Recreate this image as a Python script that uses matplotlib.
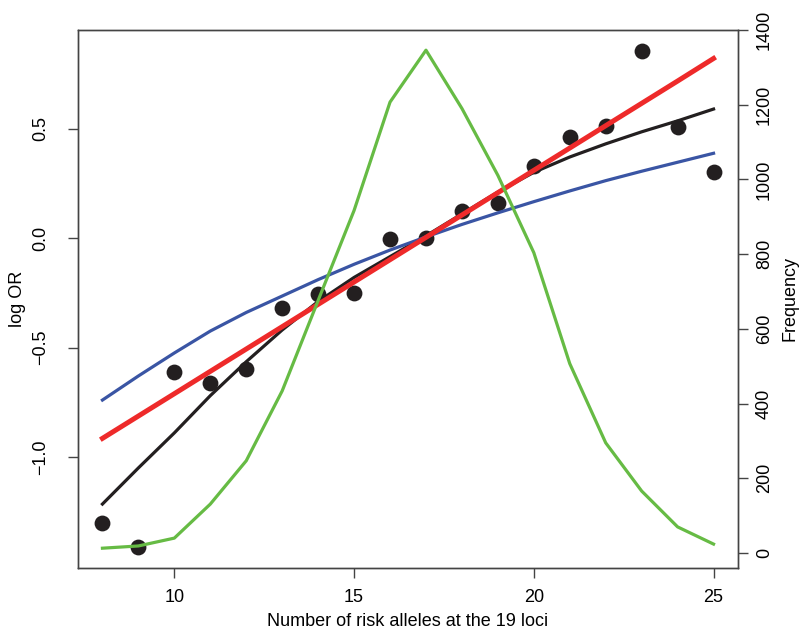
import matplotlib
matplotlib.use("Agg")
import matplotlib.pyplot as plt

plt.rcParams['font.family'] = ['Liberation Sans', 'DejaVu Sans']

# Data
alleles = [8, 9, 10, 11, 12, 13, 14, 15, 16, 17, 18, 19, 20, 21, 22, 23, 24, 25]
log_or_points = [-1.301, -1.411, -0.612, -0.662, -0.598, -0.320, -0.256, -0.251, -0.005,
                 0.000, 0.125, 0.161, 0.330, 0.460, 0.511, 0.854, 0.505, 0.301]
smooth_black = [-1.215, -1.05, -0.89, -0.72, -0.565, -0.42, -0.29, -0.18, -0.085,
                0.01, 0.11, 0.21, 0.30, 0.37, 0.43, 0.485, 0.535, 0.589]
fit_blue = [-0.740, -0.63, -0.525, -0.425, -0.34, -0.265, -0.19, -0.12, -0.055,
            0.005, 0.062, 0.115, 0.166, 0.215, 0.262, 0.305, 0.346, 0.387]
fit_red = [-0.915, -0.813, -0.711, -0.609, -0.507, -0.405, -0.303, -0.201, -0.099,
           0.003, 0.105, 0.207, 0.309, 0.411, 0.513, 0.615, 0.717, 0.820]
frequency = [13, 19, 40, 131, 247, 434, 676, 917, 1207, 1346, 1190, 1011, 804, 507,
             295, 166, 70, 24]

x_ticks = [10, 15, 20, 25]
left_ticks = [-1.0, -0.5, 0.0, 0.5]
left_ticklabels = ["\u22121.0", "\u22120.5", "0.0", "0.5"]
right_ticks = [0, 200, 400, 600, 800, 1000, 1200, 1400]

fs = 13
fig = plt.figure(figsize=(8.02, 6.31), dpi=100)
ax = fig.add_axes([78/802, 1-568/631, (738-78)/802, (568-30)/631])

frame_col = '#444444'
ax.scatter(alleles, log_or_points, s=130, color='#231F20', zorder=3, linewidths=0)
ax.plot(alleles, smooth_black, color='#231F20', lw=2.3, zorder=4)
ax.plot(alleles, fit_blue, color='#3A55A4', lw=2.3, zorder=5)
ax.plot(alleles, fit_red, color='#EE2A2A', lw=3.6, zorder=6)

ax.set_xlim(7.32, 25.68)
ax.set_ylim(-1.507, 0.950)
ax.set_xticks(x_ticks)
ax.set_yticks(left_ticks)
ax.set_yticklabels(left_ticklabels, rotation=90, va='center')
ax.tick_params(axis='both', direction='out', length=7, width=1, color=frame_col,
               labelsize=fs)
ax.tick_params(axis='y', pad=14)
ax.tick_params(axis='x', pad=8)
for sp in ax.spines.values():
    sp.set_color(frame_col)
    sp.set_linewidth(1)
ax.set_xlabel("Number of risk alleles at the 19 loci", fontsize=fs, va='center')
ax.xaxis.set_label_coords(0.5, (568 - 621) / 538)
ax.set_ylabel("log OR", fontsize=fs, va='center')
ax.yaxis.set_label_coords((18 - 78) / 660, 0.5)

ax2 = ax.twinx()
ax2.plot(alleles, frequency, color='#66BB44', lw=2.3, zorder=7)
ax2.set_ylim(-40, 1399)
ax2.set_yticks(right_ticks)
ax2.set_yticklabels([str(t) for t in right_ticks], rotation=90, va='center')
ax2.tick_params(axis='y', direction='out', length=7, width=1, color=frame_col,
                labelsize=fs, pad=6)
for sp in ax2.spines.values():
    sp.set_color(frame_col)
    sp.set_linewidth(1)
ax2.set_ylabel("Frequency", fontsize=fs, va='center')
ax2.yaxis.set_label_coords((790 - 78) / 660, 0.5)

fig.savefig("out.png", dpi=100)
